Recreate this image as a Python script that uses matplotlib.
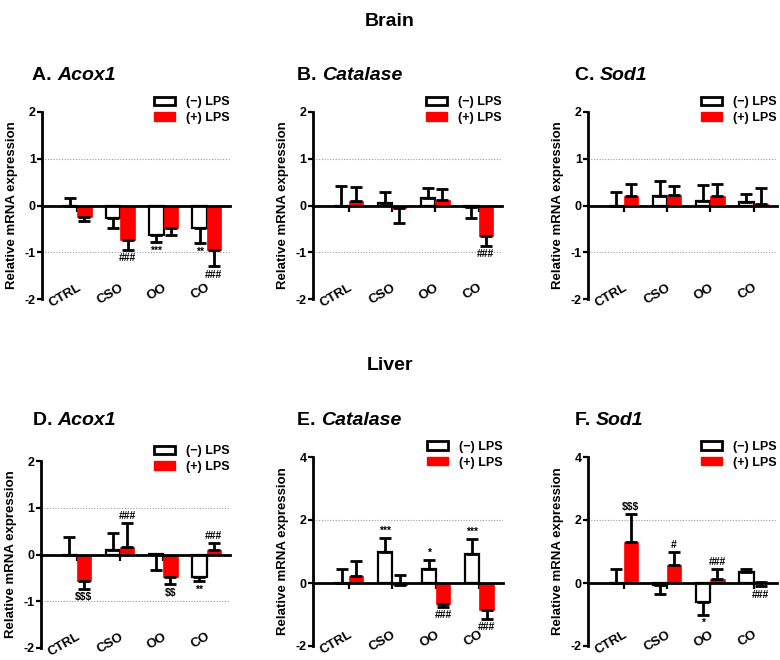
import matplotlib
matplotlib.use("Agg")
import matplotlib.pyplot as plt
import matplotlib.transforms as mtransforms
from matplotlib.patches import Patch
import numpy as np

plt.rcParams['font.family'] = ['Liberation Sans', 'DejaVu Sans']
plt.rcParams['font.weight'] = 'bold'

categories = ["CTRL", "CSO", "OO", "CO"]
series_labels = ["(\u2212) LPS", "(+) LPS"]

# ---- Brain ----
a_minus = [0.0, -0.26, -0.63, -0.48]
a_minus_err = [0.17, -0.23, -0.15, -0.32]
a_plus = [-0.25, -0.73, -0.48, -0.95]
a_plus_err = [-0.09, -0.22, -0.15, -0.35]
a_minus_sig = ["", "", "***", "**"]
a_plus_sig = ["", "###", "", "###"]

b_minus = [0.0, 0.05, 0.16, -0.03]
b_minus_err = [0.41, 0.24, 0.22, -0.23]
b_plus = [0.09, -0.05, 0.11, -0.65]
b_plus_err = [0.30, -0.32, 0.24, -0.21]
b_minus_sig = ["", "", "", ""]
b_plus_sig = ["", "", "", "###"]

c_minus = [0.0, 0.20, 0.10, 0.07]
c_minus_err = [0.28, 0.33, 0.34, 0.17]
c_plus = [0.20, 0.22, 0.21, 0.03]
c_plus_err = [0.26, 0.20, 0.25, 0.34]
c_minus_sig = ["", "", "", ""]
c_plus_sig = ["", "", "", ""]

# ---- Liver ----
d_minus = [0.0, 0.09, 0.02, -0.48]
d_minus_err = [0.38, 0.37, -0.36, -0.09]
d_plus = [-0.57, 0.16, -0.49, 0.10]
d_plus_err = [-0.16, 0.52, -0.15, 0.15]
d_minus_sig = ["", "", "", "**"]
d_plus_sig = ["$$$", "###", "$$", "###"]

e_minus = [0.0, 1.00, 0.45, 0.93]
e_minus_err = [0.44, 0.42, 0.29, 0.46]
e_plus = [0.23, -0.05, -0.68, -0.86]
e_plus_err = [0.48, 0.30, -0.08, -0.27]
e_minus_sig = ["", "***", "*", "***"]
e_plus_sig = ["", "", "###", "###"]

f_minus = [0.0, -0.07, -0.61, 0.34]
f_minus_err = [0.43, -0.29, -0.39, 0.11]
f_plus = [1.31, 0.57, 0.12, 0.03]
f_plus_err = [0.88, 0.42, 0.31, -0.14]
f_minus_sig = ["", "", "*", ""]
f_plus_sig = ["$$$", "#", "###", "###"]

brain_ticks = [-2, -1, 0, 1, 2]
liver_ticks_small = [-2, -1, 0, 1, 2]
liver_ticks_big = [-2, 0, 2, 4]

panels = [
    dict(letter="A. ", gene="Acox1", box=(42, 230, 112, 299), title=(32, 80),
         minus=a_minus, minus_err=a_minus_err, plus=a_plus, plus_err=a_plus_err,
         msig=a_minus_sig, psig=a_plus_sig, ticks=brain_ticks, grid=[1, -1]),
    dict(letter="B. ", gene="Catalase", box=(313, 502, 112, 299), title=(297, 80),
         minus=b_minus, minus_err=b_minus_err, plus=b_plus, plus_err=b_plus_err,
         msig=b_minus_sig, psig=b_plus_sig, ticks=brain_ticks, grid=[1, -1]),
    dict(letter="C. ", gene="Sod1", box=(588, 777, 112, 299), title=(575, 80),
         minus=c_minus, minus_err=c_minus_err, plus=c_plus, plus_err=c_plus_err,
         msig=c_minus_sig, psig=c_plus_sig, ticks=brain_ticks, grid=[1, -1]),
    dict(letter="D. ", gene="Acox1", box=(41, 230, 461, 648), title=(33, 425),
         minus=d_minus, minus_err=d_minus_err, plus=d_plus, plus_err=d_plus_err,
         msig=d_minus_sig, psig=d_plus_sig, ticks=liver_ticks_small, grid=[1, -1]),
    dict(letter="E. ", gene="Catalase", box=(313, 503, 457, 646), title=(297, 425),
         minus=e_minus, minus_err=e_minus_err, plus=e_plus, plus_err=e_plus_err,
         msig=e_minus_sig, psig=e_plus_sig, ticks=liver_ticks_big, grid=[2]),
    dict(letter="F. ", gene="Sod1", box=(588, 777, 457, 646), title=(575, 425),
         minus=f_minus, minus_err=f_minus_err, plus=f_plus, plus_err=f_plus_err,
         msig=f_minus_sig, psig=f_plus_sig, ticks=liver_ticks_big, grid=[2]),
]

W, H = 780, 660
fig = plt.figure(figsize=(W / 100, H / 100), dpi=100)
RED = "#FF0000"
bw = 0.33


def draw_sig(ax, xs, vals, errs, sigs):
    for xi, v, e, s in zip(xs, vals, errs, sigs):
        if not s:
            continue
        end = v + e
        s_txt = s.replace("$", r"\$")
        if e >= 0:
            ax.annotate(s_txt, (xi, end), xytext=(0, 1.5), textcoords="offset points",
                        ha="center", va="bottom", fontsize=7.5, fontweight="bold")
        else:
            ax.annotate(s_txt, (xi, end), xytext=(0, -2.5), textcoords="offset points",
                        ha="center", va="top", fontsize=7.5, fontweight="bold")


for p in panels:
    l, r, t, b = p["box"]
    ax = fig.add_axes([l / W, 1 - b / H, (r - l) / W, (b - t) / H])
    x = np.arange(len(categories))
    ticks = p["ticks"]
    ax.set_xlim(-0.82, 3.54)
    ax.set_ylim(min(ticks), max(ticks))

    for g in p["grid"]:
        ax.axhline(g, color="#9a9a9a", linestyle=(0, (1, 1.5)), linewidth=0.8, zorder=0)

    xm = x - bw / 2
    xp = x + bw / 2
    ax.bar(xm, p["minus"], bw, facecolor="white", edgecolor="black", linewidth=1.6,
           zorder=2, label=series_labels[0])
    ax.bar(xp, p["plus"], bw, facecolor=RED, edgecolor=RED, linewidth=0.5,
           zorder=2, label=series_labels[1])

    for xs, vals, errs in ((xm, p["minus"], p["minus_err"]), (xp, p["plus"], p["plus_err"])):
        errs = np.array(errs)
        upper = np.clip(errs, 0, None)
        lower = np.clip(-errs, 0, None)
        ax.errorbar(xs, vals, yerr=[lower, upper], fmt="none", ecolor="black",
                    elinewidth=2, capsize=4.3, capthick=2, zorder=3)

    draw_sig(ax, xm, p["minus"], p["minus_err"], p["msig"])
    draw_sig(ax, xp, p["plus"], p["plus_err"], p["psig"])

    for s in ("top", "right"):
        ax.spines[s].set_visible(False)
    ax.spines["bottom"].set_position(("data", 0))
    ax.spines["bottom"].set_linewidth(2)
    ax.spines["left"].set_linewidth(2)
    ax.spines["bottom"].set_zorder(4)

    ax.set_yticks(ticks)
    ax.set_yticklabels([str(v) for v in ticks], fontsize=9, fontweight="bold")
    ax.tick_params(axis="y", direction="out", length=3.5, width=1.6, pad=1)
    ax.set_xticks(x)
    ax.tick_params(axis="x", direction="out", length=4.5, width=1.6, labelbottom=False)

    trans = mtransforms.blended_transform_factory(ax.transData, ax.transAxes)
    for xi, c in zip(x, categories):
        ax.text(xi + 0.06, 0.065, c, transform=trans, rotation=30, ha="right", va="center",
                rotation_mode="anchor", fontsize=9.5, fontweight="bold")

    ax.set_ylabel("Relative mRNA expression", fontsize=9.5, fontweight="bold")
    ax.yaxis.set_label_coords(-24 / (r - l), 0.5)

    handles = [Patch(facecolor="white", edgecolor="black", linewidth=2),
               Patch(facecolor=RED, edgecolor=RED)]
    ax.legend(handles, series_labels, loc="upper right", bbox_to_anchor=(1.0, 1.085),
              frameon=False, borderaxespad=0, borderpad=0, handlelength=1.7,
              handleheight=0.65, handletextpad=0.9, labelspacing=0.3,
              prop=dict(size=9, weight="bold"))

    tx, ty = p["title"]
    t1 = fig.text(tx / W, 1 - ty / H, p["letter"], fontsize=14, fontweight="bold",
                  ha="left", va="baseline")
    fig.canvas.draw()
    bb = t1.get_window_extent()
    fig.text(bb.x1 / W, 1 - ty / H, p["gene"], fontsize=14, fontweight="bold",
             style="italic", ha="left", va="baseline")

fig.text(0.5, 1 - 22 / H, "Brain", fontsize=14, fontweight="bold", ha="center", va="center")
fig.text(0.5, 1 - 366 / H, "Liver", fontsize=14, fontweight="bold", ha="center", va="center")

fig.savefig("out.png", dpi=100)
